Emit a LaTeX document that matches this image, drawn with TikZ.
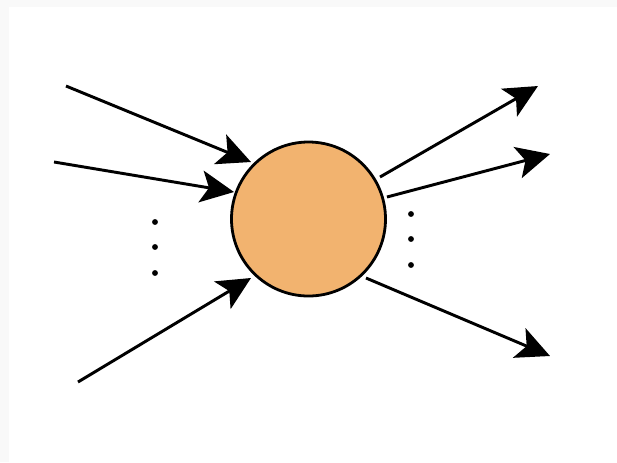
\documentclass[tikz,border=0pt]{standalone}
\usetikzlibrary{arrows.meta}
\definecolor{ballfill}{HTML}{F2B36F}
\definecolor{edgegray}{HTML}{F9F9F9}
\begin{document}
\begin{tikzpicture}[x=0.75pt,y=-0.75pt,
  conn/.style={line width=2.2pt,-{Stealth[length=25pt,width=24pt,inset=6pt]}},
  ball/.style={circle,draw,line width=2.1pt,fill=ballfill,minimum size=115.5pt,inner sep=0pt},
  dotmark/.style={circle,fill=black,inner sep=0pt,minimum size=4.4pt}]
\useasboundingbox (0,0) rectangle (617,462);
\fill[edgegray] (0,0) rectangle (617,7);
\fill[edgegray] (0,0) rectangle (9,462);
\node[ball] (c) at (308.5,219) {};
% incoming
\coordinate (i1) at (66,86);
\coordinate (i2) at (54,162);
\coordinate (i3) at (78,382);
\coordinate (t1) at (251,162);
\coordinate (t2) at (234,192);
\coordinate (t3) at (251,278);
\draw[conn] (i1) -- (t1);
\draw[conn] (i2) -- (t2);
\draw[conn] (i3) -- (t3);
% outgoing
\coordinate (s1) at (380,177);
\coordinate (s2) at (387,197);
\coordinate (s3) at (366,278);
\coordinate (o1) at (538,86);
\coordinate (o2) at (550,154);
\coordinate (o3) at (550,356);
\draw[conn] (s1) -- (o1);
\draw[conn] (s2) -- (o2);
\draw[conn] (s3) -- (o3);
% dots
\node[dotmark] (l1) at (155,222) {};
\node[dotmark] (l2) at (155,247) {};
\node[dotmark] (l3) at (155,273) {};
\node[dotmark] (r1) at (411,214) {};
\node[dotmark] (r2) at (411,239) {};
\node[dotmark] (r3) at (411,265) {};
\end{tikzpicture}
\end{document}
